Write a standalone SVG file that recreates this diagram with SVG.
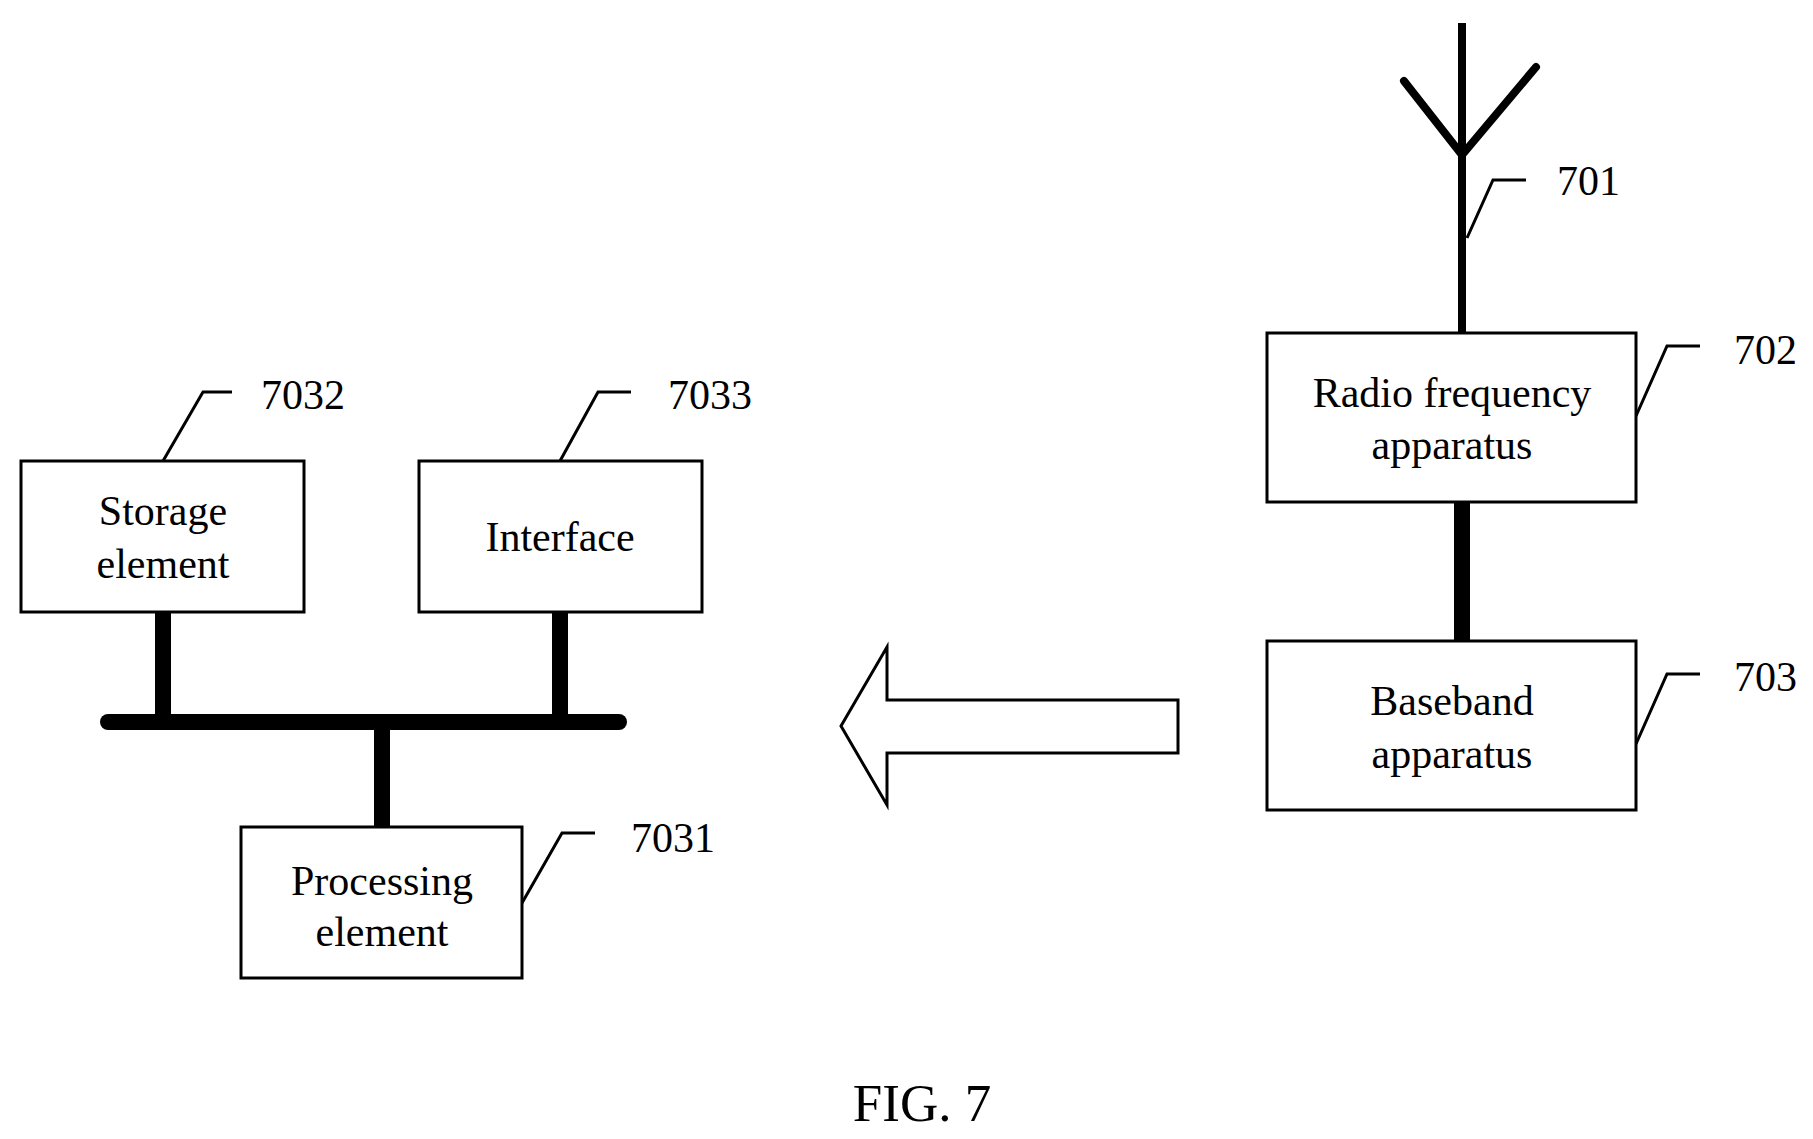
<svg xmlns="http://www.w3.org/2000/svg" width="1813" height="1139" viewBox="0 0 1813 1139">
<style>
.box{fill:#fff;stroke:#000;stroke-width:3}
.t{font-family:"Liberation Serif",serif;font-size:42px;fill:#000;text-anchor:middle}
.n{font-family:"Liberation Serif",serif;font-size:42px;fill:#000}
.lead{fill:none;stroke:#000;stroke-width:3}
.thick{stroke:#000;stroke-width:16;fill:none}
</style>
<rect width="1813" height="1139" fill="#fff"/>
<g id="connectors">
<line class="thick" x1="108" y1="722" x2="619" y2="722" stroke-linecap="round"/>
<line class="thick" x1="163" y1="612" x2="163" y2="722"/>
<line class="thick" x1="560" y1="612" x2="560" y2="722"/>
<line class="thick" x1="382" y1="722" x2="382" y2="827"/>
<line class="thick" x1="1462" y1="502" x2="1462" y2="641"/>
<polyline class="lead" points="163,461 203,392 232,392"/>
<polyline class="lead" points="560,461 598,392 631,392"/>
<polyline class="lead" points="522,903 562,833 595,833"/>
<polyline class="lead" points="1467,238 1493,180 1526,180"/>
<polyline class="lead" points="1636,416 1667,346 1700,346"/>
<polyline class="lead" points="1636,744 1667,674 1700,674"/>
</g>
<g id="antenna" stroke="#000" stroke-width="8" stroke-linecap="round" fill="none">
<line x1="1462" y1="23" x2="1462" y2="333" stroke-linecap="butt"/>
<polyline points="1404,81 1462,155 1536,67"/>
</g>
<g id="storage"><rect class="box" x="21" y="461" width="283" height="151"/><text class="t" x="163" y="525">Storage</text><text class="t" x="163" y="578">element</text></g>
<g id="interface"><rect class="box" x="419" y="461" width="283" height="151"/><text class="t" x="560" y="551">Interface</text></g>
<g id="processing"><rect class="box" x="241" y="827" width="281" height="151"/><text class="t" x="382" y="895">Processing</text><text class="t" x="382" y="946">element</text></g>
<g id="rf"><rect class="box" x="1267" y="333" width="369" height="169"/><text class="t" x="1452" y="407">Radio frequency</text><text class="t" x="1452" y="459">apparatus</text></g>
<g id="baseband"><rect class="box" x="1267" y="641" width="369" height="169"/><text class="t" x="1452" y="715">Baseband</text><text class="t" x="1452" y="768">apparatus</text></g>
<g id="arrow"><polygon class="box" points="841,726 887,647 887,700 1178,700 1178,753 887,753 887,805"/></g>
<g id="labels">
<text class="n" x="261" y="409">7032</text>
<text class="n" x="668" y="409">7033</text>
<text class="n" x="631" y="852">7031</text>
<text class="n" x="1557" y="195">701</text>
<text class="n" x="1734" y="364">702</text>
<text class="n" x="1734" y="691">703</text>
<text class="t" x="922" y="1121" style="font-size:53px">FIG. 7</text>
</g>
</svg>
